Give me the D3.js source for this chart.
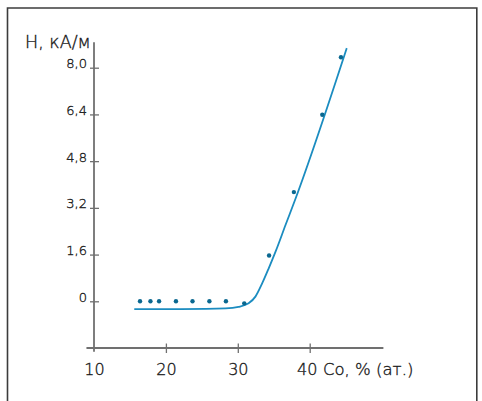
<!DOCTYPE html>
<html>
<head>
<meta charset="utf-8">
<script src="https://cdn.jsdelivr.net/npm/d3@7"></script>
<style>
  html, body { margin: 0; padding: 0; background: #fff; }
  svg { display: block; }
  text { font-family: "DejaVu Sans", sans-serif; font-weight: 200; fill: #111; stroke: #222; stroke-width: 0.35px; }
</style>
</head>
<body>
<svg id="chart" width="482" height="401"></svg>
<script>
// Coercive force H (kA/m) versus cobalt content (at. %)
const coPercent = [16.4, 17.85, 19.05, 21.4, 23.7, 26.05, 28.35, 30.9, 34.35, 37.8, 41.75, 44.35];
const hValues   = [0.0, 0.0, 0.0, 0.0, 0.0, 0.0, 0.0, -0.07, 1.57, 3.74, 6.39, 8.36];

// Smoothed trend curve
const curveCo = [15.6, 22, 28.3, 30.1, 31.5, 32.45, 33.4, 34.3, 35.25, 36.65, 38.05, 45.15];
const curveH  = [-0.27, -0.265, -0.24, -0.19, -0.07, 0.16, 0.62, 1.13, 1.70, 2.62, 3.53, 8.67];

const xTicks = [20, 30, 40];
const xTickLabels = ["20", "30", "40"];
const yTicks = [0, 1.6, 3.2, 4.8, 6.4, 8.0];
const yTickLabels = ["0", "1,6", "3,2", "4,8", "6,4", "8,0"];

const svg = d3.select("#chart");

const x = d3.scaleLinear().domain([10, 40]).range([94, 309.7]);
const y = d3.scaleLinear().domain([0, 8]).range([301.3, 67.7]);

const axisColor = "#707070";
const fontStack = "'DejaVu Sans', sans-serif";

// Outer frame (open at the bottom)
svg.append("path")
  .attr("d", "M7.5,405 V8 H476.8 V405")
  .attr("fill", "none")
  .attr("stroke", "#3c3c3c")
  .attr("stroke-width", 1.6);

// Y axis
const yAxis = d3.axisLeft(y).tickValues(yTicks).tickSize(0).tickFormat((d, i) => yTickLabels[i]);
const gy = svg.append("g").attr("transform", `translate(${x(10)},0)`).call(yAxis);
gy.select(".domain").remove();
gy.append("line")
  .attr("x1", 0).attr("x2", 0)
  .attr("y1", y(8.87)).attr("y2", y(-1.73))
  .attr("stroke", axisColor).attr("stroke-width", 1.8);
gy.selectAll(".tick line")
  .attr("x1", -4).attr("x2", 5)
  .attr("stroke", axisColor).attr("stroke-width", 1.3);
gy.selectAll(".tick text")
  .attr("x", -7).attr("dy", "0")
  .style("font-size", "13px")
  .style("font-family", fontStack)
  .style("font-weight", 200)
  .attr("fill", "#111");

// X axis
const xAxis = d3.axisBottom(x).tickValues([10].concat(xTicks)).tickSize(0)
  .tickFormat(d => d === 10 ? "10" : xTickLabels[xTicks.indexOf(d)]);
const gx = svg.append("g").attr("transform", `translate(0,${y(-1.6)})`).call(xAxis);
gx.select(".domain").remove();
gx.append("line")
  .attr("x1", x(8.95)).attr("x2", x(50.25))
  .attr("y1", 0).attr("y2", 0)
  .attr("stroke", axisColor).attr("stroke-width", 1.8);
gx.selectAll(".tick line")
  .attr("y1", d => d === 10 ? 0 : -4.5)
  .attr("y2", d => d === 10 ? 0 : 5)
  .attr("stroke", axisColor).attr("stroke-width", 1.3);
gx.selectAll(".tick text")
  .attr("y", 27).attr("dy", "0")
  .attr("dx", d => d === 40 ? -3 : 0)
  .style("font-size", "16px")
  .style("font-family", fontStack)
  .style("font-weight", 200)
  .attr("fill", "#111");

// Axis titles
svg.append("text")
  .attr("x", 25).attr("y", 48)
  .style("font-size", "17.5px")
  .text("H, кА/м");
svg.append("text")
  .attr("x", 323).attr("y", y(-1.6) + 27)
  .style("font-size", "16.5px")
  .text("Co, % (ат.)");

// Trend curve
const curvePts = curveCo.map((c, i) => [c, curveH[i]]);
svg.append("path")
  .datum(curvePts)
  .attr("fill", "none")
  .attr("stroke", "#1b8cc0")
  .attr("stroke-width", 1.8)
  .attr("d", d3.line().x(d => x(d[0])).y(d => y(d[1])).curve(d3.curveMonotoneX));

// Measured points
svg.append("g").selectAll("circle")
  .data(coPercent.map((c, i) => [c, hValues[i]]))
  .join("circle")
  .attr("cx", d => x(d[0]))
  .attr("cy", d => y(d[1]))
  .attr("r", 2.2)
  .attr("fill", "#0a6890");
</script>
</body>
</html>
